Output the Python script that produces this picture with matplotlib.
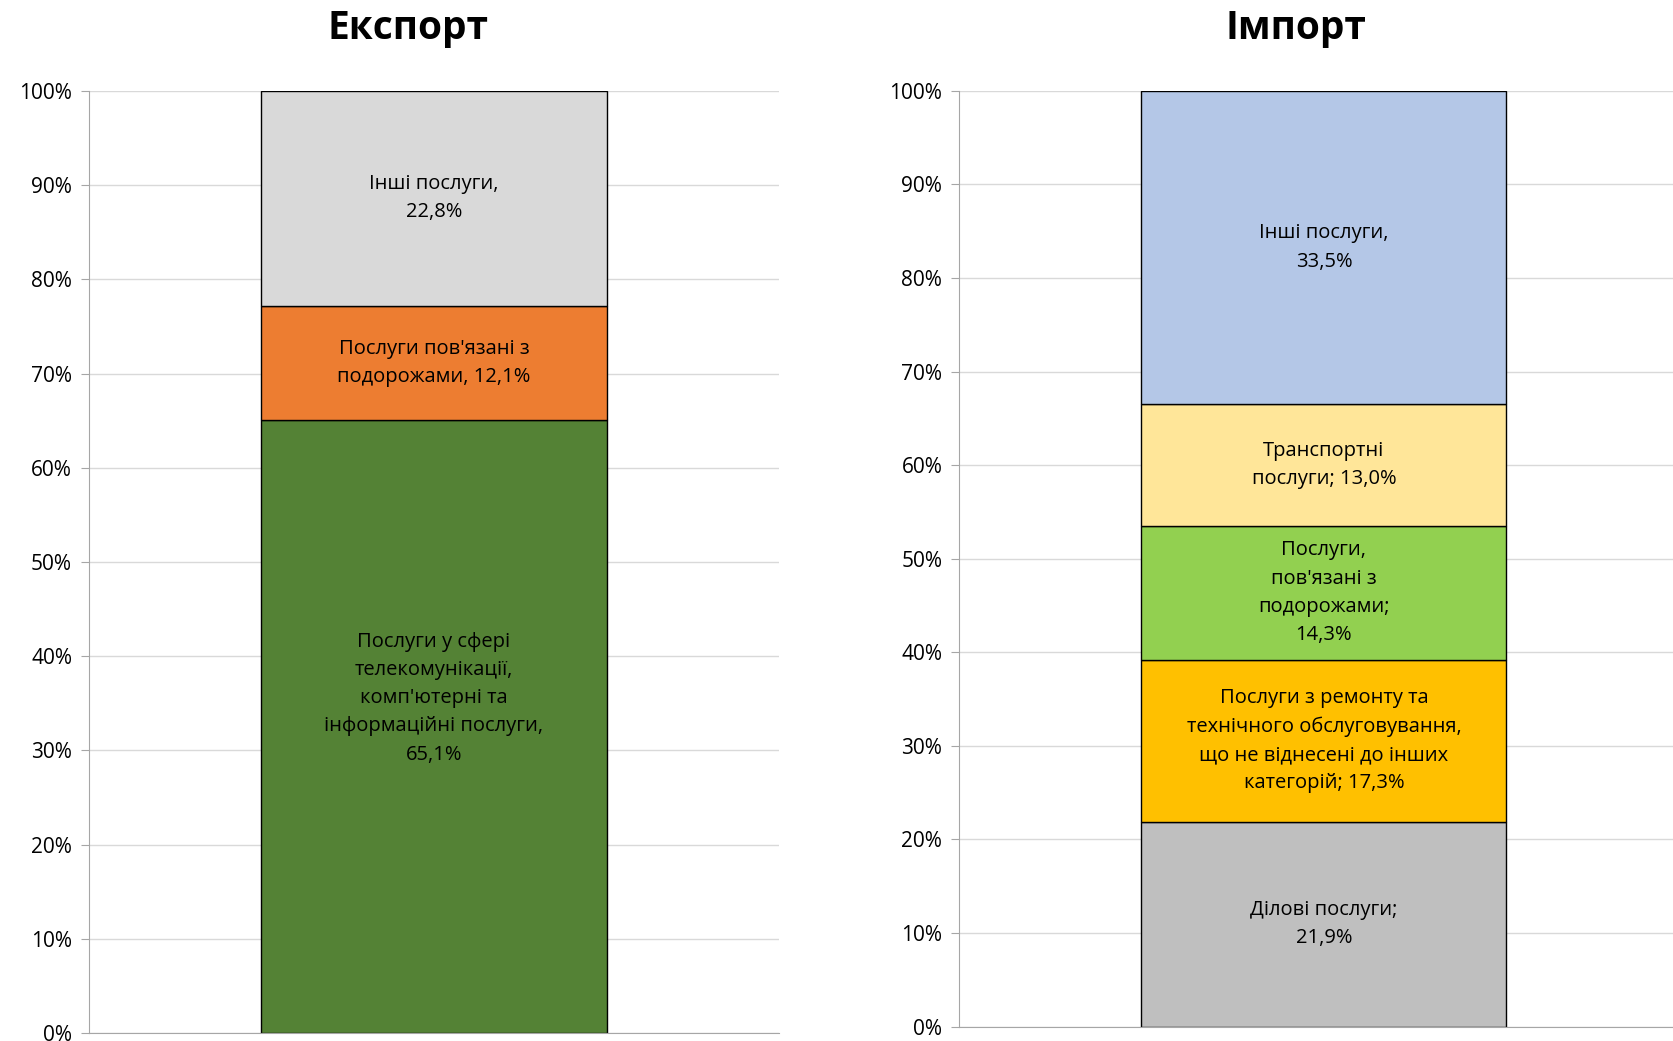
import numpy as np
import matplotlib.pyplot as plt

plt.rcParams['font.family'] = ['Open Sans', 'DejaVu Sans']

# Дані: експорт
export_labels = ["Послуги у сфері\nтелекомунікації,\nкомп'ютерні та\nінформаційні послуги,\n65,1%",
                 "Послуги пов'язані з\nподорожами, 12,1%",
                 "Інші послуги,\n22,8%"]
export_values = [65.1, 12.1, 22.8]
export_colors = ['#548235', '#ED7D31', '#D9D9D9']

# Дані: імпорт
import_labels = ["Ділові послуги;\n21,9%",
                 "Послуги з ремонту та\nтехнічного обслуговування,\nщо не віднесені до інших\nкатегорій; 17,3%",
                 "Послуги,\nпов'язані з\nподорожами;\n14,3%",
                 "Транспортні\nпослуги; 13,0%",
                 "Інші послуги,\n33,5%"]
import_values = [21.9, 17.3, 14.3, 13.0, 33.5]
import_colors = ['#BFBFBF', '#FFC000', '#92D050', '#FFE699', '#B4C7E7']

yticks = np.arange(0, 101, 10)
ytick_labels = [f'{v}%' for v in yticks]

fig = plt.figure(figsize=(16.73, 10.41), dpi=100)
ax1 = fig.add_axes([0.053, 0.0077, 0.4127, 0.905])
ax2 = fig.add_axes([0.5732, 0.0138, 0.4363, 0.899])


def stacked(ax, values, labels, colors, title, title_x, shifts=None):
    if shifts is None:
        shifts = [0] * len(values)
    bottom = 0
    for v, lab, c, sh in zip(values, labels, colors, shifts):
        ax.bar([0.5], [v], width=0.5, bottom=bottom, color=c,
               edgecolor='black', linewidth=1, zorder=3)
        ax.text(0.5, bottom + v / 2 + sh, lab, ha='center', va='center',
                fontsize=14.5, color='black', linespacing=1.55, zorder=4)
        bottom += v
    ax.set_xlim(0, 1)
    ax.set_ylim(0, 100)
    ax.set_yticks(yticks)
    ax.set_yticklabels(ytick_labels, fontsize=15)
    ax.set_xticks([])
    ax.grid(axis='y', color='#D9D9D9', linewidth=1, zorder=0)
    for s in ['top', 'right']:
        ax.spines[s].set_visible(False)
    for s in ['left', 'bottom']:
        ax.spines[s].set_color('#A6A6A6')
        ax.spines[s].set_zorder(5)
    ax.tick_params(axis='y', length=6, color='#A6A6A6', pad=6)
    fig.text(title_x, 0.973, title, ha='center', va='center',
             fontsize=28, fontweight='bold')


stacked(ax1, export_values, export_labels, export_colors, 'Експорт', 0.2437,
        shifts=[3, 0, 0])
stacked(ax2, import_values, import_labels, import_colors, 'Імпорт', 0.7747)

fig.savefig('out.png', dpi=100)
